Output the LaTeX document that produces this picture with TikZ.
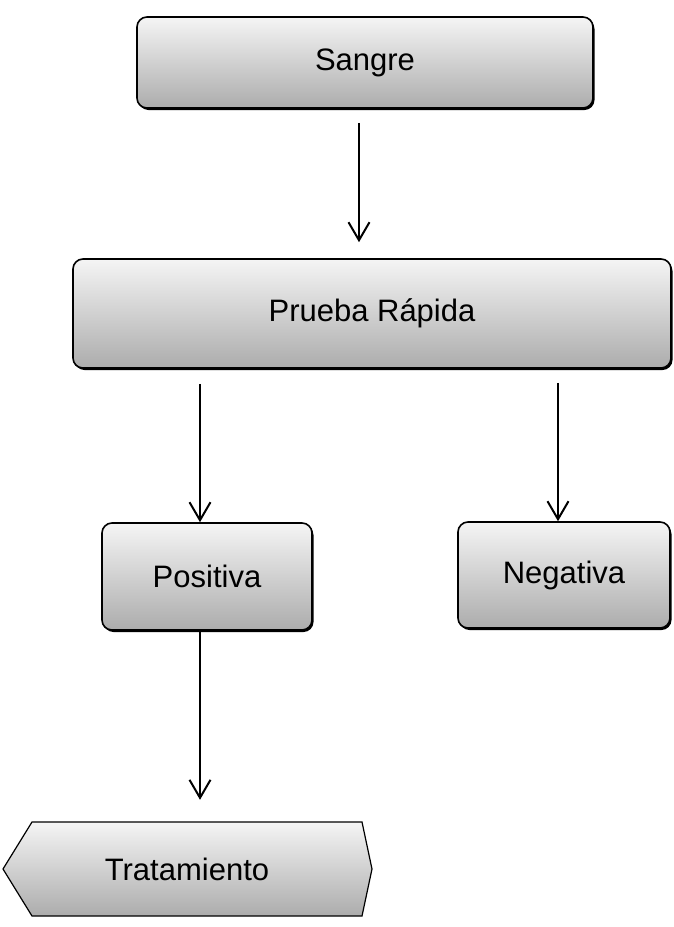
\documentclass[tikz,border=0pt]{standalone}
\usepackage{fontspec}
\setmainfont{Liberation Sans}
\usepackage{tikz}
\usetikzlibrary{arrows.meta,calc,positioning,shadows}
\tikzset{
caja/.style={draw, line width=1.6pt, rounded corners=10pt, top color=gray!8, bottom color=gray!65, drop shadow={shadow xshift=1.5pt, shadow yshift=-2pt, fill=black, opacity=1}, inner sep=0pt, font=\fontsize{31}{36}\selectfont},
flecha/.style={line width=1.5pt, -{Straight Barb[length=18pt,width=21pt,line width=2pt]}}
}

\begin{document}
\begin{tikzpicture}[x=1pt,y=-1pt]
\useasboundingbox (0,0) rectangle (673,927);
\node[caja, minimum width=456pt, minimum height=91pt] (sangre) at (365,62.5) {Sangre};
\node[caja, minimum width=598pt, minimum height=109pt] (prueba) at (372,313.5) {Prueba Rápida};
\node[caja, minimum width=210pt, minimum height=107pt] (positiva) at (207,576.5) {Positiva};
\node[caja, minimum width=212pt, minimum height=106pt] (negativa) at (564,575) {Negativa};
\draw[line width=1.2pt, top color=gray!8, bottom color=gray!65] (3,869) -- (32,822) -- (362,822) -- (372,869) -- (362,916) -- (32,916) -- cycle;
\node[font=\fontsize{31}{36}\selectfont, minimum height=94pt, inner sep=0pt] (tratamiento) at (187,869) {Tratamiento};
\coordinate (A) at (359,0);
\coordinate (B) at (200,0);
\coordinate (C) at (558,0);
\draw[flecha, shorten <=14pt, shorten >=16pt] (sangre.south -| A) -- (prueba.north -| A);
\draw[flecha, shorten <=15pt] (prueba.south -| B) -- (positiva.north -| B);
\draw[flecha, shorten <=14pt] (prueba.south -| C) -- (negativa.north -| C);
\draw[flecha, shorten >=22pt] (positiva.south -| B) -- (tratamiento.north -| B);
\end{tikzpicture}
\end{document}
